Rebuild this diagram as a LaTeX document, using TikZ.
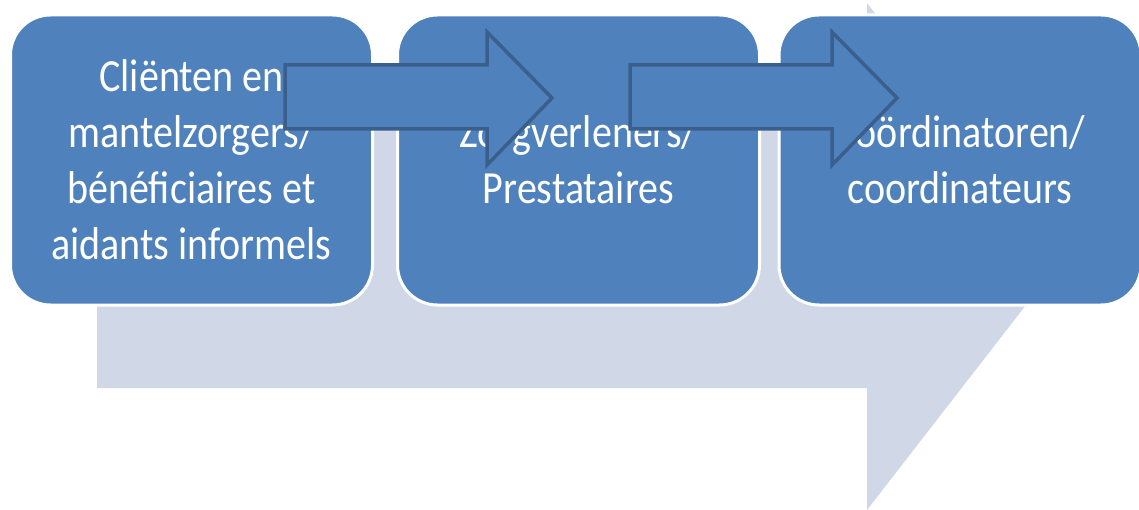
\documentclass[tikz,border=0pt]{standalone}
\usepackage{fontspec}
\setmainfont{Carlito}[FakeStretch=0.87]
\definecolor{boxblue}{HTML}{4F81BD}
\definecolor{arrowedge}{HTML}{3A5F8D}
\definecolor{paleblue}{HTML}{D0D8E8}
\tikzset{
  stage/.style={draw=white, line width=3pt, fill=boxblue, rounded corners=40pt,
    minimum width=362pt, minimum height=290pt, inner sep=0pt,
    text=white, align=center, font=\fontsize{46}{56}\selectfont},
  blockarrow/.style={draw=arrowedge, line width=3.5pt, fill=boxblue, line join=miter},
  backarrow/.style={fill=paleblue}
}
\begin{document}
\begin{tikzpicture}[x=1pt,y=-1pt]
  \useasboundingbox (0,0) rectangle (1139,510);
  \fill[white] (0,0) rectangle (1139,510);
  \clip (0,0) rectangle (1139,510);

  % wide pale arrow running behind the three stages
  \fill[backarrow] (97,122) -- (867,122) -- (867,3) -- (1064,256)
    -- (867,510) -- (867,388) -- (97,388) -- cycle;

  % the three stages
  \node[stage] (clients) at (191.5,160)
    {Cliënten en\\mantelzorgers/\\bénéficiaires et\\aidants informels};
  \node[stage] (providers) at (578.5,160) {Zorgverleners/\\Prestataires};
  \node[stage] (coord) at (960,160) {Coördinatoren/\\coordinateurs};

  % block arrows between the stages
  \foreach \dx in {0, 345}{
    \begin{scope}[xshift=\dx]
      \draw[blockarrow] (285,65) -- (487,65) -- (487,32) -- (552,98)
        -- (487,165) -- (487,129) -- (285,129) -- cycle;
    \end{scope}
  }
\end{tikzpicture}
\end{document}
